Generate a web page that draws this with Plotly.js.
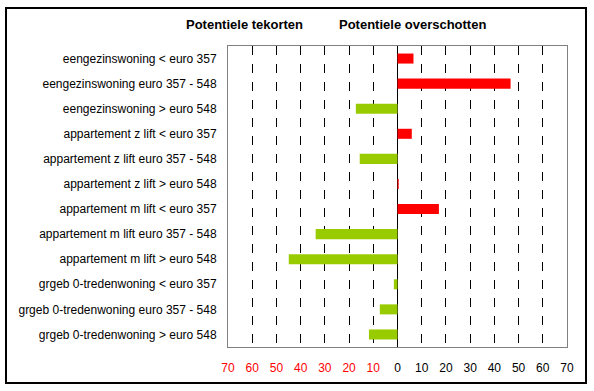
<!DOCTYPE html>
<html>
<head>
<meta charset="utf-8">
<script src="https://cdn.plot.ly/plotly-3.0.1.min.js"></script>
<style>
html,body{margin:0;padding:0;background:#fff;}
#wrap{position:relative;width:594px;height:391px;}
#chart{width:594px;height:391px;}
#frame{position:absolute;left:5px;top:7px;width:578px;height:373px;border:2px solid #000;pointer-events:none;}
</style>
</head>
<body>
<div id="wrap"><div id="chart"></div><div id="frame"></div></div>
<script>
const categories = [
  "eengezinswoning < euro 357",
  "eengezinswoning euro 357 - 548",
  "eengezinswoning > euro 548",
  "appartement z lift < euro 357",
  "appartement z lift euro 357 - 548",
  "appartement z lift > euro 548",
  "appartement m lift < euro 357",
  "appartement m lift euro 357 - 548",
  "appartement m lift > euro 548",
  "grgeb 0-tredenwoning < euro 357",
  "grgeb 0-tredenwoning euro 357 - 548",
  "grgeb 0-tredenwoning > euro 548"
];
const values = [6.6, 46.7, -17.2, 5.9, -15.6, 0.5, 17.1, -33.8, -44.9, -1.5, -7.3, -11.8];
const tickVals = [-70,-60,-50,-40,-30,-20,-10,0,10,20,30,40,50,60,70];
const tickText = ["70","60","50","40","30","20","10","0","10","20","30","40","50","60","70"];
const titleLeft = "Potentiele tekorten";
const titleRight = "Potentiele overschotten";

const RED = "#FF0000", GREEN = "#99CC00";
const colors = values.map(v => v >= 0 ? RED : GREEN);
const ticktextStyled = tickVals.map((v,i) => v < 0 ? '<span style="color:#FF0000">' + tickText[i] + '</span>' : tickText[i]);
const boundaries = categories.map((c,i) => i - 0.5).concat([categories.length - 0.5]);

const trace = {
  type: "bar",
  orientation: "h",
  x: values,
  y: categories,
  marker: {color: colors, line: {width: 0}},
  hoverinfo: "x+y"
};

const layout = {
  width: 594, height: 391,
  margin: {l: 228, r: 27, t: 46, b: 44},
  paper_bgcolor: "#fff", plot_bgcolor: "#fff",
  font: {family: "Arial, 'Liberation Sans', sans-serif", size: 12, color: "#000"},
  showlegend: false,
  bargap: 0.6,
  xaxis: {
    range: [-70, 70],
    tickvals: tickVals,
    ticktext: ticktextStyled,
    ticks: "",
    ticklabelstandoff: 10,
    showgrid: true,
    gridcolor: "#000",
    griddash: "dash",
    gridwidth: 1,
    zeroline: true,
    zerolinecolor: "#000",
    zerolinewidth: 1,
    showline: true,
    linecolor: "#808080",
    linewidth: 1,
    mirror: true,
    fixedrange: true,
    tickfont: {size: 12, color: "#000"}
  },
  xaxis2: {
    overlaying: "x",
    side: "top",
    range: [-70, 70],
    tickvals: tickVals,
    showticklabels: false,
    ticks: "outside",
    ticklen: 3,
    tickcolor: "#000",
    showline: true,
    linecolor: "#000",
    linewidth: 1,
    showgrid: false,
    zeroline: false,
    fixedrange: true
  },
  yaxis: {
    type: "category",
    autorange: "reversed",
    ticks: "",
    ticklabelstandoff: 8,
    showline: true,
    linecolor: "#808080",
    linewidth: 1,
    mirror: true,
    showgrid: false,
    fixedrange: true,
    tickfont: {size: 12, color: "#000"}
  },
  yaxis2: {
    overlaying: "y",
    anchor: "free",
    position: 0.5,
    side: "left",
    range: [categories.length - 0.5, -0.5],
    tickvals: boundaries,
    showticklabels: false,
    ticks: "outside",
    ticklen: 4,
    tickcolor: "#000",
    showline: false,
    showgrid: false,
    zeroline: false,
    fixedrange: true
  },
  annotations: [
    {text: "<b>" + titleLeft + "</b>", xref: "paper", yref: "paper", x: 0.05, y: 1.073,
     xanchor: "center", yanchor: "middle", showarrow: false, font: {size: 13, color: "#000"}},
    {text: "<b>" + titleRight + "</b>", xref: "paper", yref: "paper", x: 0.545, y: 1.073,
     xanchor: "center", yanchor: "middle", showarrow: false, font: {size: 13, color: "#000"}}
  ]
};

Plotly.newPlot("chart", [trace], layout, {displayModeBar: false, staticPlot: true});
</script>
</body>
</html>
